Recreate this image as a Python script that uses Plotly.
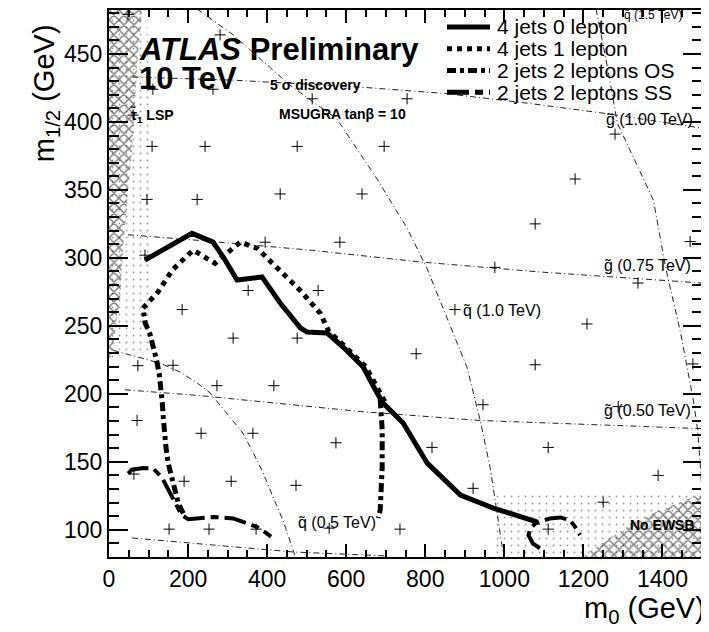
import plotly.graph_objects as go

FONT = "Liberation Sans, Arial, Helvetica, sans-serif"

# ---------------- data (m0, m1/2 in GeV) ----------------
series_names = ["4 jets 0 lepton", "4 jets 1 lepton", "2 jets 2 leptons OS", "2 jets 2 leptons SS"]

m0_0lep = [91, 210, 263, 289, 324, 387, 433, 484, 501, 552, 592, 643, 678, 694, 744, 805, 889, 972, 1084]
m12_0lep = [298.4, 318, 311.6, 300.6, 283.7, 286, 266.8, 248.6, 245.4, 244.7, 234.4, 219.7, 200.6, 193, 178.5, 149, 125.6, 116, 105.7]

m0_1lep = [86, 124, 160, 213, 268, 294, 332, 375, 433, 484, 534, 556, 600, 650, 686, 700]
m12_1lep = [263, 275, 291, 305.7, 296, 302, 311.6, 307, 291, 276, 259.4, 246, 234, 219.7, 200.6, 193]

m0_os = [188, 175.3, 166.9, 158.4, 149.9, 144, 139.8, 137.2, 134.7, 131.4, 127.1, 120.6, 112.1, 103.7, 91, 86.8,
         None, 686, 691, 691, 686, 681]
m12_os = [112.1, 119.4, 129.2, 138.9, 148.7, 160.8, 171.8, 182.8, 193.8, 204.8, 214.6, 224.3, 234.1, 243.9, 252.4, 262.2,
          None, 196, 173.4, 146, 114.6, 108.7]

m0_ss = [48.8, 57.4, 86.8, 112, 133.3, 150, 167, 184, 200.6, 230, 264, 314.5, 339.8, 373.6, 398.9, 410,
         None, 1090, 1072, 1061, 1066, 1078, 1090, 1115.6, 1141, 1166, 1179, 1191.5]
m12_ss = [141.3, 144.2, 145.4, 145, 138.8, 129.1, 119.3, 110.8, 107.8, 108.8, 109.5, 108.4, 105.9, 102.2, 97.4, 95,
          None, 86.4, 90, 96.1, 101, 104.5, 105.9, 108.4, 109.1, 107.1, 102.2, 96.1]

# iso-mass lines
q05_m0 = [10, 71, 129, 180, 223, 256, 306, 339, 365, 390, 415, 440, 466, 471]
q05_m12 = [232, 227, 222.6, 216, 208, 200.6, 183, 171, 156.5, 141.8, 124, 107, 85, 80]
q10_m0 = [223, 314, 458, 577, 678, 754, 804, 855, 906, 939, 964, 997, 999]
q10_m12 = [483, 464, 427, 402, 358, 321.8, 292.5, 255.8, 219.2, 180.4, 146, 83, 80]
q15_m0 = [1232, 1261, 1286, 1377, 1408, 1446, 1478, 1489, 1496, 1500]
q15_m12 = [483, 440, 399, 342.5, 293, 244.7, 195.4, 173.4, 146, 127]
g050_m0 = [40, 230, 483, 635, 939, 1487, 1500]
g050_m12 = [203, 198.7, 191.4, 187, 180.4, 174.5, 174.4]
g075_m0 = [48, 263, 516, 787, 1091, 1395, 1500]
g075_m12 = [317, 312, 305.5, 297, 289.6, 283.7, 281.5]
g100_m0 = [60, 314, 635, 846, 1058, 1261, 1395, 1500]
g100_m12 = [433, 430.7, 425.6, 421, 413.8, 406, 400, 395.4]
low_m0 = [58, 314, 466, 700]
low_m12 = [94, 87.4, 83.7, 80.8]

# excluded / special regions
lsp_hatch_m0 = [0, 0, 83.5, 73.4, 58.2, 45.5, 35.4, 27.8, 20.2, 10.1, 2.5]
lsp_hatch_m12 = [225, 483, 483, 450, 378.2, 341.5, 304.9, 268.3, 258.8, 233.8, 226.5]
lsp_dot_m0 = [0, 40, 104, 104, 95, 0]
lsp_dot_m12 = [226, 229, 232, 420, 483, 483]
ewsb_hatch_m0 = [1200, 1209, 1260, 1310, 1376, 1445, 1500, 1500]
ewsb_hatch_m12 = [80, 82.9, 92.5, 102, 112.2, 120.3, 126.9, 80]
ewsb_dot_m0 = [970, 970, 1500, 1500]
ewsb_dot_m12 = [80, 125.6, 128, 80]

# scan grid points
grid_m0 = [48, 281, 111, 263, 514, 754, 61, 109, 243, 476, 696, 1280, 96, 223, 433, 640, 1179, 1078, 1470,
           395, 584, 976, 1338, 352, 529, 185, 875, 1209, 314, 476, 777, 1078, 1477, 273, 417, 73, 946, 1288,
           71, 233, 364, 574, 817, 1111, 1389, 63, 190, 309, 473, 921, 1250, 152, 253, 372, 557, 736, 1111,
           91, 162]
grid_m12 = [479, 464, 424, 424, 417, 417, 405, 382, 382, 382, 382, 391, 343, 343, 347, 347, 358, 325, 312,
            311.5, 311.5, 293, 281.5, 276, 276, 262, 262, 251.4, 241, 241, 229.5, 221.4, 222, 206, 206, 220.7, 192, 190.6,
            180.4, 171, 171, 164, 160.6, 160.6, 140, 141, 135.7, 135.7, 132.7, 130.5, 120.3, 100.5, 100.5, 100.5, 101.2, 100.5, 100.5,
            302, 221]

x_ticks = [0, 200, 400, 600, 800, 1000, 1200, 1400]
y_ticks = [100, 150, 200, 250, 300, 350, 400, 450]
X_RANGE = [0, 1500]
Y_RANGE = [80, 482.3]

# ---------------- figure ----------------
fig = go.Figure()

def region(xs, ys, shape, size, solidity, fg):
    fig.add_trace(go.Scatter(
        x=xs, y=ys, mode="none", fill="toself", fillcolor="rgba(0,0,0,0)",
        fillpattern=dict(shape=shape, size=size, solidity=solidity, fgcolor=fg, bgcolor="rgba(255,255,255,0)"),
        hoverinfo="skip", showlegend=False))

region(lsp_dot_m0, lsp_dot_m12, ".", 7, 0.05, "#333")
region(ewsb_dot_m0, ewsb_dot_m12, ".", 7, 0.05, "#333")
region(lsp_hatch_m0, lsp_hatch_m12, "x", 7, 0.38, "black")
region(ewsb_hatch_m0, ewsb_hatch_m12, "x", 7, 0.38, "black")

thin = dict(color="#222", width=1, dash="6px,3px,1px,3px")
for xs, ys in [(q05_m0, q05_m12), (q10_m0, q10_m12), (q15_m0, q15_m12), (g050_m0, g050_m12),
               (g075_m0, g075_m12), (g100_m0, g100_m12), (low_m0, low_m12)]:
    fig.add_trace(go.Scatter(x=xs, y=ys, mode="lines", line=thin, showlegend=False, hoverinfo="skip"))

fig.add_trace(go.Scatter(x=grid_m0, y=grid_m12, mode="markers", showlegend=False,
                         marker=dict(symbol="cross-thin", size=8, line=dict(width=1, color="black"))))

styles = [
    dict(color="black", width=5, dash="solid"),
    dict(color="black", width=5, dash="5px,5px"),
    dict(color="black", width=5, dash="9px,4px,4px,4px"),
    dict(color="black", width=4, dash="22px,6px,8px,6px"),
]
contours = [(m0_0lep, m12_0lep), (m0_1lep, m12_1lep), (m0_os, m12_os), (m0_ss, m12_ss)]
for name, (xs, ys), st in zip(series_names, contours, styles):
    fig.add_trace(go.Scatter(x=xs, y=ys, mode="lines", name=name, line=st, showlegend=False,
                             connectgaps=False))

# invisible trace to anchor the mirrored tick axes
fig.add_trace(go.Scatter(x=[None], y=[None], xaxis="x2", yaxis="y2", showlegend=False, hoverinfo="skip"))

# manual legend (paper coordinates)
leg_x0, leg_x1, leg_tx = 0.570, 0.6425, 0.651
leg_y0, leg_dy = 0.969, 0.0398
shapes = []
annotations = []
for i, (name, st) in enumerate(zip(series_names, styles)):
    yy = leg_y0 - i * leg_dy
    shapes.append(dict(type="line", xref="paper", yref="paper", x0=leg_x0, x1=leg_x1, y0=yy, y1=yy,
                       line=dict(color="black", width=5, dash=st["dash"])))
    annotations.append(dict(xref="paper", yref="paper", x=leg_tx, y=yy, text=name, showarrow=False,
                            xanchor="left", yanchor="middle", font=dict(size=21, color="black", family=FONT)))

def label(x, y, text, size=15, bold=False, xanchor="left"):
    annotations.append(dict(x=x, y=y, text=(f"<b>{text}</b>" if bold else text), showarrow=False,
                            xanchor=xanchor, yanchor="middle", font=dict(size=size, color="black", family=FONT)))

label(71, 453, "<i>ATLAS</i> Preliminary", size=31, bold=True)
label(71, 431.6, "10 TeV", size=31, bold=True)
label(402, 427.5, "5 \u03c3 discovery", size=14, bold=True)
label(425, 406, "MSUGRA tan\u03b2 = 10", size=14, bold=True)
label(49, 405, "\u03c4\u0303<sub>1</sub> LSP", size=14, bold=True)
label(1488, 103.4, "No EWSB", size=14, bold=True, xanchor="right")
label(1298, 478.5, "q\u0303 (1.5 TeV)", size=12)
label(1253, 402, "g\u0303 (1.00 TeV)", size=16)
label(1248, 294.7, "g\u0303 (0.75 TeV)", size=16)
label(1248, 187.7, "g\u0303 (0.50 TeV)", size=16)
label(891, 261, "q\u0303 (1.0 TeV)", size=16)
label(474, 105.6, "q\u0303 (0.5 TeV)", size=16)

annotations.append(dict(xref="paper", yref="paper", x=-0.107, y=0.847, text="m<sub>1/2</sub> (GeV)",
                        textangle=-90, showarrow=False, xanchor="center", yanchor="middle",
                        font=dict(size=29, color="black", family=FONT)))
annotations.append(dict(xref="paper", yref="paper", x=1.008, y=-0.133, text="m<sub>0</sub> (GeV)",
                        showarrow=False, xanchor="right", yanchor="bottom",
                        font=dict(size=29, color="black", family=FONT)))

tickfont = dict(size=23, color="black", family=FONT)
common = dict(showgrid=False, zeroline=False, ticks="inside", tickcolor="black", tickwidth=2)
fig.update_layout(
    xaxis=dict(range=X_RANGE, tickvals=x_ticks, ticklen=13, showline=True, linewidth=2, linecolor="black",
               mirror=True, tickfont=tickfont,
               minor=dict(ticks="inside", ticklen=7, dtick=50, tickwidth=1.5, tickcolor="black"), **common),
    yaxis=dict(range=Y_RANGE, tickvals=y_ticks, ticklen=19, showline=True, linewidth=2, linecolor="black",
               mirror=True, tickfont=tickfont,
               minor=dict(ticks="inside", ticklen=10, dtick=10, tickwidth=1.5, tickcolor="black"), **common),
    xaxis2=dict(range=X_RANGE, tickvals=x_ticks, ticklen=13, overlaying="x", side="top", anchor="y",
                showticklabels=False, showline=False,
                minor=dict(ticks="inside", ticklen=7, dtick=50, tickwidth=1.5, tickcolor="black"), **common),
    yaxis2=dict(range=Y_RANGE, tickvals=y_ticks, ticklen=19, overlaying="y", side="right", anchor="x",
                showticklabels=False, showline=False,
                minor=dict(ticks="inside", ticklen=10, dtick=10, tickwidth=1.5, tickcolor="black"), **common),
)

fig.update_layout(width=701, height=624, margin=dict(l=101, r=7, t=0, b=75),
                  paper_bgcolor="white", plot_bgcolor="white", showlegend=False,
                  shapes=shapes, annotations=annotations, font=dict(family=FONT, color="black"))

fig.write_html("out.html")
